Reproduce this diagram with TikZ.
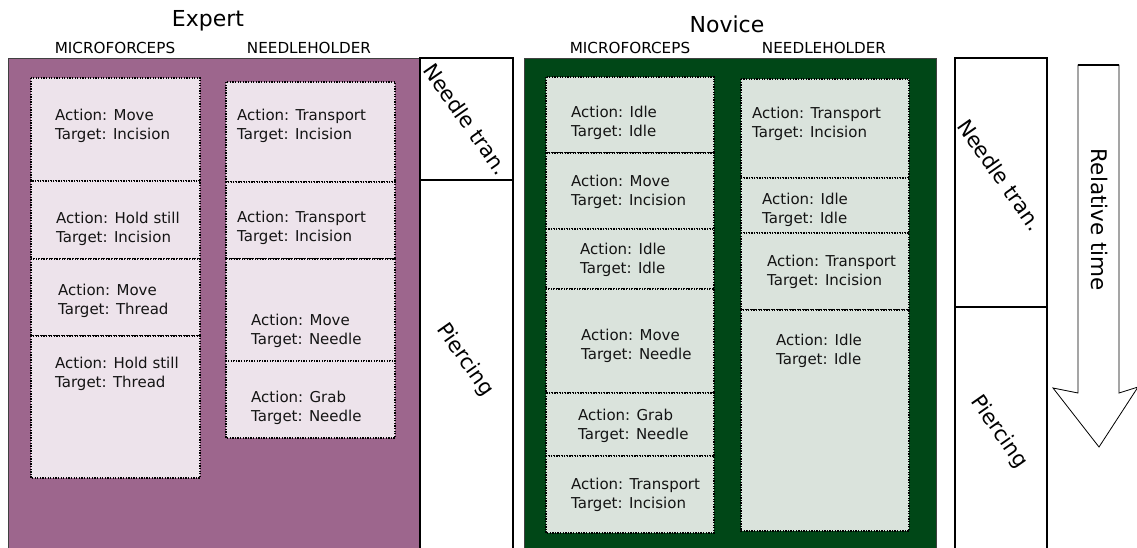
\documentclass[tikz,border=0pt]{standalone}
\usepackage{fontspec}
\setmainfont{DejaVu Sans}
\definecolor{expertbg}{RGB}{157,102,141}
\definecolor{expertcell}{RGB}{237,227,235}
\definecolor{novicebg}{RGB}{0,71,23}
\definecolor{novicecell}{RGB}{218,227,220}
\definecolor{txt}{RGB}{20,20,20}
\tikzset{
  panel/.style={draw=black!75, line width=0.8pt},
  cellbox/.style={draw=black, line width=1.3pt, dash pattern=on 1.3pt off 1.3pt},
  celltxt/.style={inner sep=0pt, anchor=west, align=left, text=txt,
    font=\fontsize{15}{19}\selectfont},
  header/.style={inner sep=0pt, text=black, font=\fontsize{15.2}{18}\selectfont},
  title/.style={inner sep=0pt, text=black, font=\fontsize{22}{26}\selectfont},
  phase/.style={draw=black, line width=1.1pt, fill=white},
  phasetxt/.style={inner sep=0pt, rotate=-55, text=black, font=\fontsize{21}{25}\selectfont},
  thickline/.style={line width=2.6pt, black},
}
\begin{document}
\begin{tikzpicture}[x=1pt,y=-1pt]
\useasboundingbox (0,0) rectangle (1137,547);
\clip (0,0) rectangle (1137,547);
% titles
\node[title] (texp) at (208,21) {Expert};
\node[title] (tnov) at (727,24) {Novice};
\node[header] (hemf) at (115,48) {MICROFORCEPS};
\node[header] (henh) at (309,48) {NEEDLEHOLDER};
\node[header] (hnmf) at (630,48) {MICROFORCEPS};
\node[header] (hnnh) at (824,48) {NEEDLEHOLDER};
% panels
\draw[panel, fill=expertbg] (8,58) rectangle (419,570);
\draw[panel, fill=novicebg] (524,58) rectangle (936,570);
% expert cells
\foreach \a/\b in {78/181,181/259,259/336,336/478}
  \draw[cellbox, fill=expertcell] (31,\a) rectangle (200,\b);
\foreach \a/\b in {82/182,182/259,259/361,361/438}
  \draw[cellbox, fill=expertcell] (226,\a) rectangle (395,\b);
% novice cells
\foreach \a/\b in {77/153,153/229,229/289,289/393,393/456,456/533}
  \draw[cellbox, fill=novicecell] (546,\a) rectangle (714,\b);
\foreach \a/\b in {79/178,178/233,233/310,310/531}
  \draw[cellbox, fill=novicecell] (741,\a) rectangle (909,\b);
% expert texts
\node[celltxt] (e1) at (55,125.5) {Action: Move\\Target: Incision};
\node[celltxt] (e2) at (56,228.5) {Action: Hold still\\Target: Incision};
\node[celltxt] (e3) at (58,301) {Action: Move\\Target: Thread};
\node[celltxt] (e4) at (55,374) {Action: Hold still\\Target: Thread};
\node[celltxt] (e5) at (237,125.5) {Action: Transport\\Target: Incision};
\node[celltxt] (e6) at (237,227.5) {Action: Transport\\Target: Incision};
\node[celltxt] (e7) at (251,331) {Action: Move\\Target: Needle};
\node[celltxt] (e8) at (251,408) {Action: Grab\\Target: Needle};
% novice texts
\node[celltxt] (n1) at (571,122.5) {Action: Idle\\Target: Idle};
\node[celltxt] (n2) at (571,191.5) {Action: Move\\Target: Incision};
\node[celltxt] (n3) at (580,260) {Action: Idle\\Target: Idle};
\node[celltxt] (n4) at (581,346) {Action: Move\\Target: Needle};
\node[celltxt] (n5) at (578,426) {Action: Grab\\Target: Needle};
\node[celltxt] (n6) at (571,494.5) {Action: Transport\\Target: Incision};
\node[celltxt] (n7) at (752,123.5) {Action: Transport\\Target: Incision};
\node[celltxt] (n8) at (762,209.5) {Action: Idle\\Target: Idle};
\node[celltxt] (n9) at (767,271.5) {Action: Transport\\Target: Incision};
\node[celltxt] (n10) at (776,350.5) {Action: Idle\\Target: Idle};
% phase boxes expert
\draw[phase] (420,58) rectangle (513,180);
\draw[phase] (420,180) rectangle (513,570);
\draw[thickline] (420,180) -- (513,180);
\node[phasetxt] (pe1) at (466,119) {Needle tran.};
\node[phasetxt] (pe2) at (465,360) {Piercing};
% phase boxes novice
\draw[phase] (955,58) rectangle (1047,307);
\draw[phase] (955,307) rectangle (1047,570);
\draw[thickline] (955,307) -- (1047,307);
\node[phasetxt] (pn1) at (1000,175) {Needle tran.};
\node[phasetxt] (pn2) at (999,432) {Piercing};
% arrow
\coordinate (a1) at (1078,65);
\coordinate (a2) at (1119,65);
\coordinate (a3) at (1119,393);
\coordinate (a4) at (1138,387);
\coordinate (a5) at (1099,447);
\coordinate (a6) at (1053,388);
\coordinate (a7) at (1078,393);
\draw[black, line width=0.8pt, fill=white] (a1) -- (a2) -- (a3) -- (a4) -- (a5) -- (a6) -- (a7) -- cycle;
\draw[black, line width=1.6pt] (a1) -- (a2);
\node[inner sep=0pt, rotate=-90, font=\fontsize{21.5}{25}\selectfont] (rt) at (1099,220) {Relative time};
\end{tikzpicture}
\end{document}
